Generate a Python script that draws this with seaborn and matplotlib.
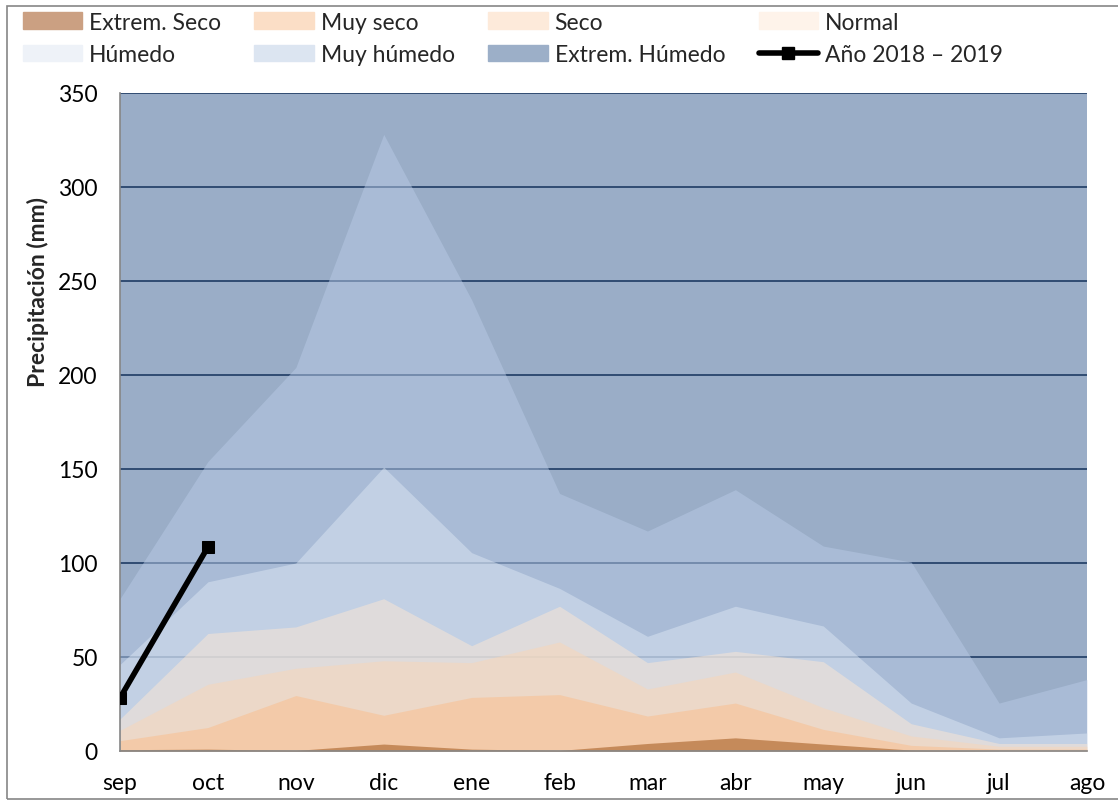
import numpy as np
import pandas as pd
import matplotlib
matplotlib.use("Agg")
import matplotlib.pyplot as plt
import matplotlib.patches as mpatches
from matplotlib.lines import Line2D
import seaborn as sns

# meses del año hidrológico
meses = ["sep", "oct", "nov", "dic", "ene", "feb", "mar", "abr", "may", "jun", "jul", "ago"]

# límite superior de cada categoría (mm)
extrem_seco = [0.7, 1.0, 0.3, 3.7, 1.0, 0.3, 4.0, 7.0, 3.7, 0.5, 0.0, 0.0]
muy_seco = [5.5, 12.5, 29.5, 19.0, 28.5, 30.0, 18.6, 25.5, 11.5, 3.0, 1.0, 1.0]
seco = [11.0, 35.5, 44.0, 48.0, 47.0, 58.0, 33.0, 42.0, 23.0, 8.0, 2.5, 2.5]
normal = [17.0, 62.5, 66.0, 81.0, 56.0, 77.0, 47.0, 53.0, 47.5, 14.5, 4.0, 4.0]
humedo = [46.0, 90.0, 100.0, 151.0, 105.5, 86.5, 61.0, 77.0, 66.5, 25.5, 7.0, 9.6]
muy_humedo = [81.0, 154.0, 204.0, 328.0, 240.0, 137.0, 117.0, 139.0, 109.0, 100.5, 25.5, 38.0]
extrem_humedo = [350] * 12

# año en curso
anio_meses = ["sep", "oct"]
anio_valores = [28.2, 108.5]

sns.set_style("white")
plt.rcParams["font.family"] = ["Lato", "DejaVu Sans"]

fig = plt.figure(figsize=(11.18, 8.03), dpi=100)
ax = fig.add_axes([120 / 1118, 1 - 752 / 803, (1087 - 120) / 1118, (752 - 94) / 803])

x = np.arange(len(meses))

# gridlines underneath the semi-transparent areas
for v in range(50, 351, 50):
    ax.axhline(v, color="#1a2c45", lw=1.3, zorder=0)

# capas: cada área va de 0 a su límite, con transparencia (estilo Excel)
capas = [
    ("Extrem. Húmedo", extrem_humedo, "#375D91", "#9CAFC8"),
    ("Muy húmedo", muy_humedo, "#B8CAE6", "#DCE5F1"),
    ("Húmedo", humedo, "#DBE6F3", "#EEF2F8"),
    ("Normal", normal, "#FCE7D3", "#FEF3EA"),
    ("Seco", seco, "#F9D6B6", "#FDEADA"),
    ("Muy seco", muy_seco, "#FABD8B", "#FBDEC6"),
    ("Extrem. Seco", extrem_seco, "#994B0C", "#CBA082"),
]
for nombre, vals, col, _ in capas:
    ax.fill_between(x, 0, vals, color=col, alpha=0.5, lw=0, zorder=1)

df_anio = pd.DataFrame({"x": [meses.index(m) for m in anio_meses], "valor": anio_valores})
sns.lineplot(data=df_anio, x="x", y="valor", ax=ax, color="black", lw=4,
             marker="s", markersize=8.5, markeredgecolor="black", zorder=5, legend=False)

ax.set_xlim(0, len(meses) - 1)
ax.set_ylim(0, 350)
ax.set_yticks(range(0, 351, 50))
ax.set_xticks(x)
ax.set_xticklabels(meses)
ax.tick_params(axis="both", labelsize=16.5, colors="#868686", labelcolor="black",
               length=10, width=1.2, direction="out")
ax.tick_params(axis="x", pad=5)
ax.tick_params(axis="y", pad=6)
ax.set_xlabel("")
ax.set_ylabel("")
for s in ["top", "right"]:
    ax.spines[s].set_visible(False)
for s in ["left", "bottom"]:
    ax.spines[s].set_color("#868686")
    ax.spines[s].set_linewidth(1.2)
    ax.spines[s].set_zorder(3)

fig.text(38 / 1118, 1 - 292 / 803, "Precipitación (mm)", rotation=90, fontsize=16.5,
         fontweight="bold", ha="center", va="center")

# leyenda en dos filas (matplotlib llena por columnas, así que se reordena)
orden = ["Extrem. Seco", "Muy seco", "Seco", "Normal", "Húmedo", "Muy húmedo", "Extrem. Húmedo"]
leg_col = {n: c for n, _, _, c in capas}
handles = [mpatches.Patch(color=leg_col[n], label=n) for n in orden]
handles.append(Line2D([0], [0], color="black", lw=4, marker="s", markersize=9,
                      label="Año 2018 – 2019"))
handles = [handles[i] for i in [0, 4, 1, 5, 2, 6, 3, 7]]
fig.legend(handles=handles, loc="upper left", bbox_to_anchor=(18 / 1118, 1 - 8 / 803),
           ncol=4, frameon=False, fontsize=16.5, handlelength=2.6, handleheight=0.75,
           handletextpad=0.3, columnspacing=1.45, labelspacing=0.5, borderaxespad=0,
           borderpad=0.2)

# borde del gráfico
fig.add_artist(mpatches.Rectangle((7 / 1118, 3 / 803), 1.2, 1 - 10 / 803,
                                  transform=fig.transFigure, fill=False,
                                  edgecolor="#868686", lw=1.2))

fig.savefig("out.png", dpi=100)
